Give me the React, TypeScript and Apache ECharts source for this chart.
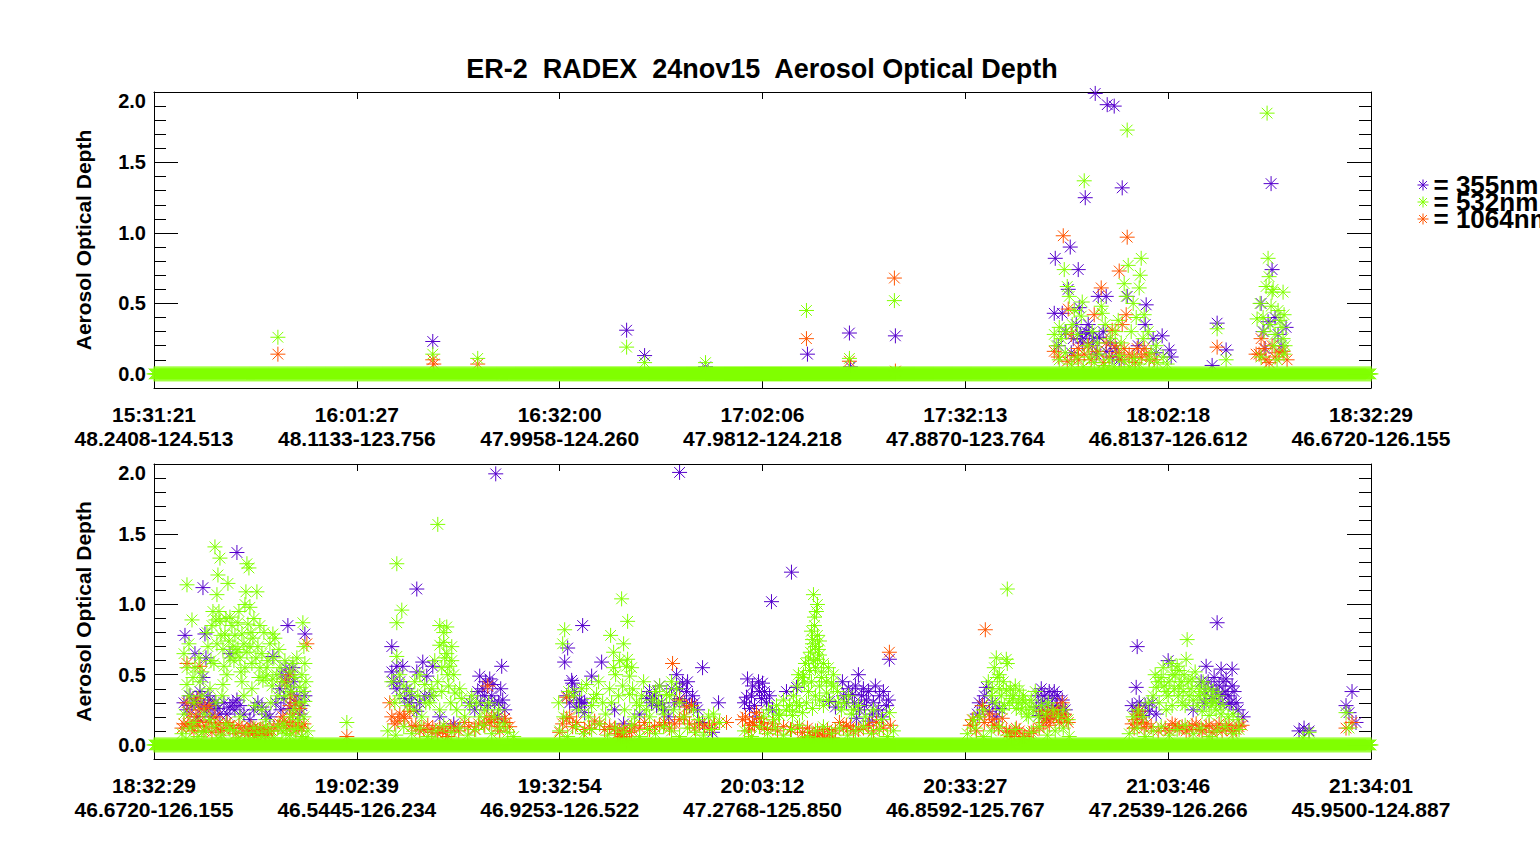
import React, { useEffect, useRef } from "react";
import * as echarts from "echarts";

// ---------- axis tick labels ----------
const TOP_TIMES = ["15:31:21", "16:01:27", "16:32:00", "17:02:06", "17:32:13", "18:02:18", "18:32:29"];
const TOP_COORDS = ["48.2408-124.513", "48.1133-123.756", "47.9958-124.260", "47.9812-124.218", "47.8870-123.764", "46.8137-126.612", "46.6720-126.155"];
const BOT_TIMES = ["18:32:29", "19:02:39", "19:32:54", "20:03:12", "20:33:27", "21:03:46", "21:34:01"];
const BOT_COORDS = ["46.6720-126.155", "46.5445-126.234", "46.9253-126.522", "47.2768-125.850", "46.8592-125.767", "47.2539-126.266", "45.9500-124.887"];
const Y_TICKS = [0, 0.5, 1.0, 1.5, 2.0];
const Y_MINOR = [0.1, 0.2, 0.3, 0.4, 0.6, 0.7, 0.8, 0.9, 1.1, 1.2, 1.3, 1.4, 1.6, 1.7, 1.8, 1.9];
const WAVELENGTHS = ["355nm", "532nm", "1064nm"];

// profile index axis: 6 labelled intervals
const X_MAX = 1218;
const X_STEP = 203;
// profiles with no retrieval are reported as AOD 0 (the flat band), whole flight
const BASELINE_RANGE = [0, 1218];
const BASELINE_AOD = 0;

// ---------- upper panel (15:31 - 18:32) ----------
const TOP_355 = [
  [279, 0.23], [473, 0.31], [491, 0.13], [552, 0.05], [654, 0.14], [696, 0.29], [697, 0.05], [742, 0.27],
  [902, 0.82], [917, 0.9], [925, 0.74], [915, 0.6], [932, 1.25], [942, 1.99], [954, 1.91], [961, 1.9], [969, 1.32],
  [945, 0.55], [953, 0.55], [926, 0.47], [993, 0.49], [901, 0.43], [909, 0.43], [992, 0.35], [1009, 0.27],
  [923, 0.35], [929, 0.25], [936, 0.29], [1016, 0.17], [1018, 0.12], [974, 0.55],
  [929, 0.22], [933, 0.3], [939, 0.2], [946, 0.26], [953, 0.16], [943, 0.14], [959, 0.12], [966, 0.1],
  [905, 0.2], [918, 0.15], [985, 0.2], [1000, 0.25],
  [912, 0.3], [920, 0.25], [927, 0.28], [935, 0.35], [940, 0.25], [950, 0.3], [957, 0.22], [963, 0.18], [1003, 0.15],
  [1064, 0.36], [1073, 0.17], [1059, 0.06],
  [1118, 1.35], [1119, 0.74], [1108, 0.5], [1115, 0.37], [1133, 0.33], [1125, 0.28], [1112, 0.18],
  [1110, 0.3], [1122, 0.4], [1128, 0.2],
];
const TOP_532 = [
  [124, 0.26], [279, 0.14], [324, 0.11], [473, 0.19], [491, 0.08], [552, 0.08], [653, 0.45], [696, 0.11], [741, 0.52],
  [931, 1.37], [974, 1.73], [911, 0.74], [975, 0.77], [988, 0.82], [987, 0.7], [971, 0.64], [986, 0.61], [914, 0.62],
  [916, 0.55], [973, 0.55], [929, 0.51], [948, 0.48], [949, 0.43], [991, 0.42], [901, 0.28], [928, 0.41], [1014, 0.07],
  [906, 0.33], [921, 0.45], [965, 0.38], [980, 0.5], [995, 0.3], [1003, 0.2],
  [903, 0.2], [908, 0.25], [913, 0.3], [919, 0.35], [924, 0.28], [934, 0.2], [939, 0.3], [944, 0.22], [952, 0.35],
  [957, 0.25], [962, 0.3], [968, 0.22], [978, 0.3], [983, 0.4], [990, 0.25], [998, 0.15],
  [936, 0.12], [941, 0.08], [946, 0.14], [951, 0.06], [956, 0.1], [961, 0.05], [966, 0.13], [971, 0.09], [976, 0.05],
  [981, 0.11], [986, 0.07], [906, 0.1], [912, 0.15], [918, 0.07], [924, 0.12], [930, 0.05], [996, 0.1], [1004, 0.08], [1010, 0.12],
  [1064, 0.32], [1073, 0.1],
  [1114, 1.85], [1115, 0.82], [1116, 0.69], [1119, 0.58], [1130, 0.58], [1118, 0.48], [1104, 0.39], [1131, 0.42],
  [1129, 0.33], [1130, 0.25], [1131, 0.14], [1111, 0.3], [1121, 0.2], [1108, 0.12], [1124, 0.1], [1113, 0.62], [1125, 0.45],
  [1107, 0.5], [1110, 0.4], [1117, 0.35], [1122, 0.28], [1127, 0.38], [1132, 0.2], [1120, 0.6],
];
const TOP_1064 = [
  [124, 0.14], [279, 0.1], [280, 0.07], [324, 0.07], [653, 0.25], [696, 0.09], [741, 0.68], [742, 0.02],
  [910, 0.98], [974, 0.97], [966, 0.73], [948, 0.61], [915, 0.46], [973, 0.42], [941, 0.42], [918, 0.28], [901, 0.16],
  [925, 0.18], [959, 0.31], [969, 0.35], [991, 0.18], [984, 0.18], [971, 0.18],
  [931, 0.14], [938, 0.1], [944, 0.16], [950, 0.08], [956, 0.12], [962, 0.2], [968, 0.1], [976, 0.14], [982, 0.08],
  [988, 0.12], [996, 0.1], [914, 0.09], [921, 0.13],
  [905, 0.12], [925, 0.1], [935, 0.2], [953, 0.22], [965, 0.15], [979, 0.12], [993, 0.14], [1001, 0.1],
  [1064, 0.19],
  [1108, 0.25], [1119, 0.2], [1103, 0.14], [1113, 0.1], [1134, 0.1], [1126, 0.15], [1116, 0.08],
  [1106, 0.14], [1111, 0.18], [1122, 0.12], [1130, 0.16],
];

// ---------- lower panel (18:32 - 21:34) ----------
const BOT_355 = [
  [49, 1.12], [83, 1.37], [31, 0.78], [51, 0.79], [41, 0.65], [52, 0.62], [119, 0.63], [134, 0.85], [151, 0.79],
  [139, 0.55], [135, 0.5], [49, 0.48], [36, 0.35], [41, 0.3], [46, 0.38], [53, 0.25], [56, 0.32], [59, 0.28],
  [76, 0.27], [83, 0.32], [81, 0.25], [126, 0.4], [130, 0.33], [136, 0.26], [141, 0.3], [146, 0.22], [108, 0.27],
  [116, 0.2], [76, 0.65], [30, 0.3], [44, 0.2], [66, 0.22], [96, 0.18],
  [33, 0.25], [38, 0.28], [43, 0.33], [47, 0.3], [50, 0.27], [54, 0.35], [57, 0.2], [61, 0.3], [64, 0.26], [70, 0.3],
  [73, 0.22], [79, 0.3], [86, 0.28], [90, 0.22], [100, 0.25], [104, 0.3], [112, 0.22], [122, 0.3], [127, 0.25],
  [133, 0.45], [137, 0.38], [140, 0.45], [143, 0.35], [148, 0.28], [151, 0.35], [128, 0.5], [132, 0.55],
  [263, 1.11], [342, 1.93], [238, 0.7], [243, 0.56], [249, 0.56], [269, 0.59], [279, 0.56], [263, 0.52], [273, 0.49],
  [238, 0.52], [348, 0.56], [326, 0.49], [332, 0.45], [336, 0.47], [339, 0.43], [329, 0.4], [349, 0.32], [351, 0.25],
  [243, 0.4], [251, 0.33], [256, 0.3], [263, 0.24], [276, 0.35], [316, 0.3], [321, 0.25], [344, 0.2], [286, 0.2], [300, 0.15],
  [240, 0.45], [246, 0.45], [253, 0.4], [258, 0.35], [266, 0.3], [271, 0.35], [324, 0.38], [327, 0.3], [331, 0.35],
  [334, 0.28], [338, 0.35], [341, 0.3], [345, 0.3], [347, 0.4],
  [429, 0.85], [414, 0.69], [411, 0.59], [448, 0.59], [438, 0.49], [418, 0.46], [419, 0.44], [428, 0.3], [423, 0.27],
  [431, 0.23], [523, 0.5], [529, 0.44], [533, 0.38], [526, 0.33], [536, 0.28], [539, 0.35], [526, 0.4], [496, 0.38],
  [493, 0.33], [503, 0.28], [565, 0.3], [549, 0.16], [559, 0.09], [526, 1.94], [461, 0.25], [486, 0.22], [506, 0.42],
  [549, 0.55], [515, 0.2], [470, 0.15],
  [413, 0.35], [416, 0.3], [421, 0.38], [426, 0.32], [431, 0.3], [498, 0.3], [501, 0.35], [508, 0.3], [511, 0.25],
  [518, 0.4], [521, 0.3], [531, 0.3], [534, 0.45], [541, 0.3], [544, 0.25],
  [638, 1.23], [618, 1.02], [593, 0.34], [594, 0.47], [599, 0.42], [606, 0.38], [613, 0.3], [619, 0.25], [603, 0.2],
  [609, 0.44], [596, 0.26], [633, 0.38], [643, 0.41], [689, 0.45], [705, 0.5], [736, 0.61], [693, 0.3], [699, 0.36],
  [706, 0.25], [713, 0.32], [719, 0.22], [726, 0.35], [733, 0.28], [716, 0.17], [703, 0.19], [729, 0.2], [682, 0.27],
  [676, 0.31], [710, 0.4], [722, 0.42],
  [591, 0.3], [598, 0.35], [601, 0.28], [605, 0.45], [608, 0.33], [611, 0.38], [616, 0.35], [690, 0.35], [695, 0.4],
  [701, 0.3], [708, 0.35], [711, 0.28], [715, 0.38], [720, 0.3], [725, 0.25], [730, 0.38], [735, 0.32], [702, 0.42],
  [833, 0.41], [829, 0.28], [836, 0.24], [843, 0.2], [846, 0.26], [824, 0.22], [896, 0.38], [899, 0.33], [889, 0.3],
  [903, 0.28], [909, 0.32], [883, 0.27], [886, 0.21], [893, 0.19], [906, 0.22],
  [826, 0.3], [831, 0.35], [839, 0.3], [885, 0.35], [888, 0.4], [891, 0.35], [894, 0.28], [898, 0.25], [901, 0.38],
  [904, 0.35], [907, 0.27], [912, 0.25],
  [984, 0.7], [1064, 0.87], [1015, 0.6], [1053, 0.56], [1068, 0.54], [1079, 0.54], [1073, 0.47], [1079, 0.42],
  [1069, 0.36], [1076, 0.29], [1066, 0.42], [983, 0.41], [979, 0.28], [983, 0.24], [989, 0.21], [996, 0.24],
  [1003, 0.22], [1059, 0.33], [1051, 0.3], [1083, 0.3], [1040, 0.25], [1090, 0.2],
  [1048, 0.45], [1052, 0.38], [1055, 0.45], [1058, 0.4], [1061, 0.48], [1063, 0.38], [1067, 0.3], [1070, 0.45],
  [1072, 0.38], [1075, 0.35], [1078, 0.3], [1081, 0.38], [1085, 0.25], [986, 0.3], [992, 0.28], [999, 0.3],
  [1146, 0.1], [1151, 0.12], [1156, 0.1],
  [1199, 0.38], [1193, 0.28], [1196, 0.23], [1203, 0.16],
];
const BOT_532 = [
  [33, 1.14], [61, 1.41], [66, 1.33], [93, 1.29], [95, 1.26], [64, 1.21], [74, 1.15], [63, 1.07], [92, 1.09],
  [103, 1.09], [91, 1.0], [96, 0.98], [59, 0.95], [62, 0.89], [66, 0.88], [38, 0.89], [76, 0.91], [84, 0.87],
  [94, 0.86], [106, 0.85], [71, 0.79], [81, 0.78], [88, 0.79], [99, 0.76], [119, 0.79], [121, 0.76], [149, 0.87],
  [150, 0.7], [63, 0.72], [69, 0.68], [76, 0.62], [86, 0.62], [82, 0.66], [91, 0.55], [33, 0.55], [41, 0.55],
  [102, 0.62], [106, 0.55], [112, 0.49], [119, 0.47], [109, 0.46], [139, 0.58], [151, 0.58], [33, 0.43], [46, 0.45],
  [69, 0.43], [146, 0.41], [151, 0.31], [101, 0.28], [108, 0.25], [73, 0.5], [54, 0.7], [79, 0.7], [96, 0.7],
  [114, 0.6], [126, 0.55], [57, 0.6], [88, 0.45], [132, 0.35],
  [30, 0.65], [35, 0.72], [39, 0.48], [45, 0.62], [48, 0.52], [53, 0.8], [58, 0.85], [60, 0.58], [65, 0.95],
  [67, 0.78], [70, 0.56], [72, 0.9], [75, 0.74], [78, 0.85], [80, 0.6], [84, 0.68], [85, 0.95], [87, 0.52],
  [90, 0.72], [93, 0.66], [97, 0.8], [98, 0.58], [100, 0.9], [104, 0.7], [105, 0.48], [108, 0.65], [110, 0.8],
  [113, 0.55], [116, 0.72], [118, 0.42], [120, 0.62], [123, 0.5], [125, 0.68], [128, 0.45], [131, 0.6], [134, 0.42],
  [136, 0.52], [138, 0.38], [141, 0.48], [143, 0.62], [145, 0.3], [148, 0.5], [150, 0.38], [152, 0.45], [35, 0.35],
  [40, 0.3], [48, 0.35], [56, 0.4], [62, 0.3], [68, 0.35], [90, 0.35], [98, 0.4], [117, 0.3], [124, 0.35], [140, 0.25],
  [30, 0.22], [50, 0.22], [86, 0.2], [112, 0.18], [137, 0.2], [150, 0.2],
  [28, 0.08], [36, 0.12], [44, 0.06], [52, 0.1], [60, 0.13], [68, 0.07], [76, 0.11], [84, 0.05], [92, 0.09],
  [100, 0.12], [108, 0.06], [116, 0.1], [124, 0.13], [132, 0.08], [140, 0.11], [148, 0.06], [154, 0.1], [40, 0.16],
  [56, 0.18], [72, 0.15], [130, 0.15], [144, 0.18], [193, 0.16],
  [32, 0.04], [48, 0.09], [64, 0.05], [80, 0.1], [96, 0.04], [104, 0.09], [112, 0.13], [120, 0.05], [128, 0.1],
  [136, 0.07], [144, 0.12], [152, 0.05],
  [243, 1.29], [284, 1.57], [248, 0.96], [243, 0.87], [286, 0.85], [293, 0.84], [286, 0.71], [290, 0.73], [293, 0.65],
  [298, 0.6], [288, 0.55], [294, 0.5], [296, 0.56], [243, 0.63], [246, 0.5], [266, 0.5], [261, 0.45], [271, 0.43],
  [301, 0.37], [308, 0.33], [316, 0.28], [323, 0.3], [331, 0.25], [246, 0.35], [254, 0.28], [276, 0.3], [286, 0.25], [340, 0.2],
  [238, 0.45], [241, 0.3], [250, 0.42], [256, 0.38], [260, 0.25], [264, 0.35], [268, 0.2], [272, 0.3], [278, 0.4],
  [281, 0.6], [284, 0.45], [288, 0.38], [291, 0.62], [295, 0.42], [297, 0.3], [300, 0.5], [303, 0.25], [306, 0.4],
  [311, 0.2], [318, 0.35], [326, 0.2], [335, 0.3], [345, 0.25], [350, 0.15], [298, 0.7], [290, 0.8], [280, 0.35],
  [234, 0.1], [242, 0.07], [250, 0.13], [258, 0.08], [266, 0.12], [274, 0.06], [282, 0.1], [290, 0.14], [298, 0.09],
  [306, 0.12], [314, 0.07], [322, 0.11], [330, 0.14], [338, 0.08], [346, 0.12], [354, 0.09], [360, 0.06],
  [411, 0.82], [409, 0.72], [468, 1.04], [474, 0.88], [457, 0.78], [460, 0.66], [474, 0.61], [473, 0.56], [476, 0.49],
  [433, 0.43], [443, 0.36], [456, 0.4], [449, 0.3], [438, 0.28], [469, 0.42], [476, 0.36], [483, 0.3], [506, 0.42],
  [513, 0.36], [509, 0.27], [499, 0.32], [493, 0.25], [486, 0.28], [518, 0.45], [526, 0.3], [540, 0.25], [555, 0.2], [420, 0.35],
  [405, 0.3], [410, 0.2], [415, 0.38], [425, 0.25], [428, 0.4], [435, 0.2], [440, 0.33], [445, 0.45], [452, 0.22],
  [458, 0.3], [462, 0.5], [465, 0.35], [471, 0.25], [479, 0.4], [481, 0.2], [488, 0.35], [490, 0.45], [496, 0.2],
  [502, 0.38], [505, 0.3], [510, 0.22], [516, 0.35], [520, 0.25], [523, 0.4], [530, 0.2], [545, 0.18], [560, 0.22],
  [466, 0.6], [470, 0.72], [460, 0.55], [478, 0.55],
  [406, 0.1], [414, 0.06], [422, 0.13], [430, 0.08], [438, 0.11], [446, 0.15], [454, 0.07], [462, 0.12], [470, 0.09],
  [478, 0.14], [486, 0.06], [494, 0.11], [502, 0.08], [510, 0.13], [518, 0.1], [526, 0.06], [534, 0.12], [542, 0.09],
  [550, 0.07], [558, 0.11], [566, 0.16],
  [660, 1.07], [664, 1.0], [661, 0.91], [658, 0.81], [664, 0.78], [659, 0.75], [666, 0.74], [662, 0.7], [657, 0.66],
  [666, 0.64], [664, 0.61], [652, 0.58], [656, 0.53], [649, 0.48], [644, 0.42], [658, 0.45], [666, 0.42], [673, 0.45],
  [678, 0.44], [673, 0.37], [666, 0.32], [659, 0.26], [653, 0.3], [646, 0.28], [639, 0.24], [649, 0.23], [623, 0.28],
  [633, 0.25], [626, 0.21], [639, 0.21], [736, 0.23], [684, 0.38], [691, 0.3], [700, 0.25],
  [661, 0.85], [663, 0.95], [659, 0.72], [665, 0.68], [660, 0.6], [655, 0.62], [662, 0.55], [668, 0.52], [670, 0.58],
  [650, 0.5], [640, 0.35], [643, 0.3], [636, 0.28], [630, 0.32], [625, 0.22], [615, 0.25], [610, 0.2], [620, 0.18],
  [655, 0.38], [662, 0.35], [670, 0.28], [675, 0.32], [680, 0.42], [685, 0.3], [688, 0.25], [695, 0.35], [698, 0.22],
  [705, 0.28], [712, 0.2], [720, 0.25], [728, 0.18], [645, 0.5], [651, 0.44], [668, 0.48], [675, 0.55], [680, 0.5],
  [591, 0.1], [598, 0.06], [606, 0.13], [614, 0.08], [622, 0.12], [630, 0.07], [638, 0.11], [646, 0.14], [654, 0.06],
  [662, 0.1], [670, 0.13], [678, 0.08], [686, 0.12], [694, 0.07], [702, 0.1], [710, 0.13], [718, 0.08], [726, 0.11],
  [734, 0.06], [740, 0.1],
  [854, 1.11], [843, 0.62], [853, 0.61], [854, 0.58], [846, 0.5], [844, 0.48], [839, 0.4], [846, 0.4], [853, 0.39],
  [859, 0.33], [866, 0.39], [869, 0.32], [863, 0.26], [873, 0.22], [876, 0.27], [856, 0.3], [849, 0.25],
  [835, 0.45], [838, 0.35], [841, 0.55], [842, 0.3], [848, 0.35], [850, 0.45], [851, 0.28], [857, 0.4], [860, 0.35],
  [862, 0.42], [865, 0.3], [868, 0.25], [870, 0.35], [872, 0.3], [875, 0.2], [878, 0.32], [880, 0.25], [882, 0.38],
  [885, 0.2], [888, 0.28], [892, 0.22], [895, 0.3], [900, 0.25], [905, 0.2], [910, 0.25], [915, 0.18], [830, 0.25],
  [826, 0.2], [820, 0.18],
  [814, 0.08], [822, 0.12], [830, 0.06], [838, 0.1], [846, 0.13], [854, 0.07], [862, 0.11], [870, 0.05], [878, 0.09],
  [886, 0.13], [894, 0.07], [902, 0.1], [910, 0.12], [916, 0.06],
  [1034, 0.75], [1033, 0.61], [1024, 0.56], [1019, 0.5], [1008, 0.48], [1003, 0.41], [1016, 0.45], [1026, 0.42],
  [1031, 0.5], [1039, 0.47], [1036, 0.35], [1029, 0.3], [1019, 0.28], [1013, 0.25], [1006, 0.3], [1046, 0.35],
  [1053, 0.3], [1059, 0.32], [1049, 0.24], [1056, 0.21], [1063, 0.25], [1046, 0.42], [1026, 0.53], [1013, 0.38],
  [1000, 0.35], [1002, 0.5], [1005, 0.45], [1010, 0.55], [1011, 0.42], [1015, 0.35], [1018, 0.58], [1021, 0.4],
  [1022, 0.5], [1025, 0.35], [1028, 0.45], [1030, 0.38], [1032, 0.28], [1035, 0.45], [1038, 0.4], [1040, 0.32],
  [1042, 0.52], [1044, 0.28], [1047, 0.38], [1050, 0.45], [1052, 0.35], [1055, 0.4], [1058, 0.28], [1060, 0.38],
  [1062, 0.3], [1065, 0.35], [1068, 0.22], [1070, 0.28], [1075, 0.2], [1080, 0.22], [1085, 0.18], [995, 0.3],
  [990, 0.2], [985, 0.25], [980, 0.2],
  [976, 0.08], [984, 0.12], [992, 0.06], [1000, 0.1], [1008, 0.13], [1016, 0.07], [1024, 0.11], [1032, 0.14],
  [1040, 0.08], [1048, 0.12], [1056, 0.06], [1064, 0.1], [1072, 0.13], [1080, 0.08], [1086, 0.11],
  [1156, 0.09], [1150, 0.05],
  [1193, 0.23], [1196, 0.12],
];
const BOT_1064 = [
  [153, 0.72], [33, 0.58], [46, 0.56], [136, 0.5], [137, 0.35], [146, 0.26], [33, 0.3], [46, 0.25], [42, 0.2],
  [28, 0.12], [34, 0.15], [40, 0.1], [46, 0.17], [52, 0.13], [58, 0.09], [64, 0.15], [70, 0.11], [76, 0.14],
  [82, 0.08], [88, 0.12], [94, 0.1], [100, 0.07], [106, 0.11], [112, 0.08], [118, 0.1], [124, 0.13], [130, 0.17],
  [136, 0.14], [142, 0.1], [148, 0.12], [36, 0.22], [51, 0.26], [61, 0.2], [129, 0.2], [139, 0.22], [193, 0.06],
  [95, 0.09], [99, 0.12], [103, 0.08], [107, 0.11], [111, 0.07],
  [30, 0.15], [38, 0.13], [44, 0.14], [50, 0.1], [55, 0.16], [62, 0.12], [67, 0.1], [73, 0.16], [79, 0.12],
  [85, 0.14], [91, 0.09], [97, 0.13], [101, 0.1], [105, 0.08], [109, 0.12], [114, 0.1], [120, 0.13], [126, 0.15],
  [133, 0.12], [139, 0.16], [145, 0.13], [150, 0.15], [40, 0.3], [55, 0.28], [44, 0.33], [136, 0.28], [142, 0.3], [131, 0.45],
  [334, 0.42], [236, 0.3], [246, 0.22], [251, 0.19], [256, 0.24], [279, 0.12], [284, 0.08], [289, 0.1], [294, 0.06],
  [333, 0.2], [341, 0.18], [351, 0.19], [241, 0.15], [258, 0.13], [266, 0.1], [274, 0.14], [301, 0.12], [311, 0.16],
  [321, 0.11], [331, 0.14], [346, 0.1], [356, 0.13],
  [238, 0.2], [244, 0.17], [250, 0.2], [262, 0.14], [270, 0.11], [278, 0.09], [286, 0.12], [292, 0.09], [297, 0.13],
  [305, 0.1], [315, 0.13], [325, 0.15], [336, 0.16], [344, 0.13], [352, 0.16], [338, 0.2],
  [519, 0.58], [413, 0.34], [526, 0.32], [533, 0.27], [538, 0.28], [566, 0.16], [573, 0.16], [413, 0.19], [419, 0.13],
  [446, 0.15], [466, 0.1], [469, 0.06], [473, 0.03], [476, 0.09], [456, 0.13], [486, 0.12], [506, 0.14], [526, 0.18],
  [546, 0.15], [431, 0.11], [406, 0.09], [471, 0.12], [467, 0.05],
  [409, 0.15], [416, 0.2], [423, 0.16], [436, 0.12], [441, 0.17], [451, 0.11], [461, 0.12], [464, 0.08], [478, 0.1],
  [481, 0.14], [491, 0.16], [496, 0.11], [501, 0.13], [511, 0.16], [516, 0.12], [521, 0.15], [531, 0.2], [536, 0.15],
  [541, 0.12], [551, 0.14], [556, 0.12], [561, 0.15],
  [736, 0.66], [589, 0.18], [596, 0.14], [603, 0.23], [599, 0.16], [606, 0.19], [611, 0.12], [619, 0.15], [649, 0.09],
  [654, 0.12], [659, 0.06], [664, 0.1], [669, 0.07], [674, 0.11], [679, 0.05], [686, 0.16], [693, 0.14], [723, 0.16],
  [700, 0.1], [710, 0.12],
  [592, 0.2], [595, 0.1], [601, 0.14], [608, 0.16], [614, 0.11], [624, 0.1], [630, 0.13], [637, 0.11], [644, 0.12],
  [651, 0.05], [656, 0.09], [661, 0.04], [666, 0.08], [671, 0.05], [676, 0.08], [682, 0.1], [690, 0.12], [697, 0.13],
  [705, 0.11], [715, 0.14], [720, 0.1], [730, 0.12], [737, 0.14],
  [832, 0.82], [829, 0.28], [836, 0.22], [849, 0.19], [819, 0.18], [823, 0.1], [909, 0.3], [893, 0.2], [899, 0.24],
  [906, 0.16], [913, 0.18], [896, 0.14], [903, 0.22], [853, 0.1], [858, 0.06], [863, 0.12], [869, 0.04], [876, 0.08],
  [886, 0.12], [841, 0.14],
  [817, 0.14], [826, 0.2], [831, 0.16], [839, 0.18], [845, 0.12], [856, 0.09], [861, 0.08], [866, 0.1], [871, 0.06],
  [880, 0.1], [890, 0.16], [894, 0.22], [897, 0.18], [900, 0.2], [904, 0.25], [908, 0.2], [911, 0.22], [915, 0.16], [888, 0.24],
  [984, 0.22], [983, 0.18], [979, 0.15], [993, 0.15], [1019, 0.15], [1026, 0.12], [1033, 0.1], [1039, 0.14],
  [1046, 0.11], [1053, 0.13], [1059, 0.09], [1066, 0.15], [1073, 0.12], [1079, 0.1], [1086, 0.13], [986, 0.24],
  [981, 0.12], [988, 0.16], [991, 0.12], [998, 0.13], [1005, 0.1], [1012, 0.12], [1022, 0.14], [1029, 0.13],
  [1036, 0.11], [1043, 0.15], [1049, 0.1], [1056, 0.14], [1063, 0.12], [1069, 0.1], [1076, 0.14], [1083, 0.11],
  [1089, 0.14], [1016, 0.1],
  [1199, 0.16], [1193, 0.12],
];

// ---------- styling ----------
const FONT = '"Liberation Sans", Arial, Helvetica, sans-serif';
const C355 = "#5500cc";
const C532 = "#80ff00";
const C1064 = "#ff5500";
const STAR = "path://M8,0L8,16M0,8L16,8M2.3,2.3L13.7,13.7M2.3,13.7L13.7,2.3";
const TITLE = "ER-2  RADEX  24nov15  Aerosol Optical Depth";
const Y_NAME = "Aerosol Optical Depth";

function baseline(): number[][] {
  const out: number[][] = [];
  for (let i = BASELINE_RANGE[0]; i <= BASELINE_RANGE[1]; i++) out.push([i, BASELINE_AOD]);
  return out;
}

const axisLine = { show: true, onZero: false, lineStyle: { color: "#000", width: 1 } };
const noLine = { show: false, onZero: false };
const noSplit = { show: false };

function xAxes(gridIndex: number, times: string[], coords: string[]) {
  return [
    {
      type: "value", gridIndex, position: "bottom", min: 0, max: X_MAX, interval: X_STEP,
      axisLine, splitLine: noSplit,
      axisTick: { show: true, inside: true, length: 7, lineStyle: { color: "#000" } },
      axisLabel: {
        show: true, margin: 14, showMinLabel: true, showMaxLabel: true, hideOverlap: false,
        formatter: (v: number) => {
          const i = Math.round(v / X_STEP);
          return times[i] + "\n" + coords[i];
        },
        fontSize: 21, fontWeight: "bold", fontFamily: FONT, color: "#000", lineHeight: 24,
      },
    },
    {
      type: "value", gridIndex, position: "top", min: 0, max: X_MAX, interval: X_STEP,
      axisLine, splitLine: noSplit, axisLabel: { show: false },
      axisTick: { show: true, inside: true, length: 7, lineStyle: { color: "#000" } },
    },
  ];
}

function yAxes(gridIndex: number) {
  const common = { type: "value", gridIndex, min: -0.1, max: 2.0, splitLine: noSplit };
  return [
    {
      ...common, position: "left", axisLine,
      axisTick: { show: true, inside: true, length: 24, customValues: Y_TICKS, lineStyle: { color: "#000" } },
      axisLabel: {
        show: true, customValues: Y_TICKS, margin: 8,
        formatter: (v: number) => (Math.abs(v - 2) < 1e-6 ? "{t|2.0}" : v.toFixed(1)),
        fontSize: 20, fontWeight: "bold", fontFamily: FONT, color: "#000",
        rich: { t: { fontSize: 20, fontWeight: "bold", fontFamily: FONT, color: "#000", padding: [17, 0, 0, 0] } },
      },
      name: Y_NAME, nameLocation: "middle", nameGap: 60, nameRotate: 90,
      nameTextStyle: { fontSize: 21, fontWeight: "bold", fontFamily: FONT, color: "#000" },
    },
    {
      ...common, position: "left", axisLine: noLine, axisLabel: { show: false },
      axisTick: { show: true, inside: true, length: 12, customValues: Y_MINOR, lineStyle: { color: "#000" } },
    },
    {
      ...common, position: "right", axisLine, axisLabel: { show: false },
      axisTick: { show: true, inside: true, length: 24, customValues: Y_TICKS, lineStyle: { color: "#000" } },
    },
    {
      ...common, position: "right", axisLine: noLine, axisLabel: { show: false },
      axisTick: { show: true, inside: true, length: 12, customValues: Y_MINOR, lineStyle: { color: "#000" } },
    },
  ];
}

function scatter(name: string, color: string, data: number[][], xi: number, yi: number) {
  return {
    type: "scatter", name, data, xAxisIndex: xi, yAxisIndex: yi,
    symbol: STAR, symbolSize: 15, silent: true,
    itemStyle: { color, borderColor: color, borderWidth: 1, opacity: 1 },
    emphasis: { disabled: true },
  };
}

export default function App() {
  const ref = useRef<HTMLDivElement>(null);
  useEffect(() => {
    if (!ref.current) return;
    const chart = echarts.init(ref.current, null, { renderer: "svg" });
    const base = baseline();
    chart.setOption({
      animation: false,
      backgroundColor: "#fff",
      title: {
        text: TITLE, left: 757, top: 50, textAlign: "center",
        textStyle: { fontSize: 27, fontWeight: "bold", fontFamily: FONT, color: "#000" },
      },
      legend: {
        orient: "vertical", left: 1412, top: 167, itemGap: -9, itemWidth: 11, itemHeight: 11,
        selectedMode: false,
        data: WAVELENGTHS.map((n) => ({ name: n, icon: STAR })),
        formatter: (n: string) => "= " + n,
        itemStyle: { borderWidth: 1 },
        textStyle: { fontSize: 26, fontWeight: "bold", fontFamily: FONT, color: "#000", lineHeight: 17 },
      },
      grid: [
        { left: 154, top: 92, width: 1217, height: 296 },
        { left: 154, top: 464, width: 1217, height: 295 },
      ],
      xAxis: [...xAxes(0, TOP_TIMES, TOP_COORDS), ...xAxes(1, BOT_TIMES, BOT_COORDS)],
      yAxis: [...yAxes(0), ...yAxes(1)],
      series: [
        scatter(WAVELENGTHS[0], C355, TOP_355, 0, 0),
        scatter(WAVELENGTHS[2], C1064, TOP_1064, 0, 0),
        scatter(WAVELENGTHS[1], C532, base.concat(TOP_532), 0, 0),
        scatter(WAVELENGTHS[0], C355, BOT_355, 2, 4),
        scatter(WAVELENGTHS[2], C1064, BOT_1064, 2, 4),
        scatter(WAVELENGTHS[1], C532, base.concat(BOT_532), 2, 4),
      ],
    });
    return () => chart.dispose();
  }, []);
  return (
    <div
      ref={ref}
      style={{ position: "fixed", left: 0, top: 0, width: 1540, height: 845, background: "#fff" }}
    />
  );
}
